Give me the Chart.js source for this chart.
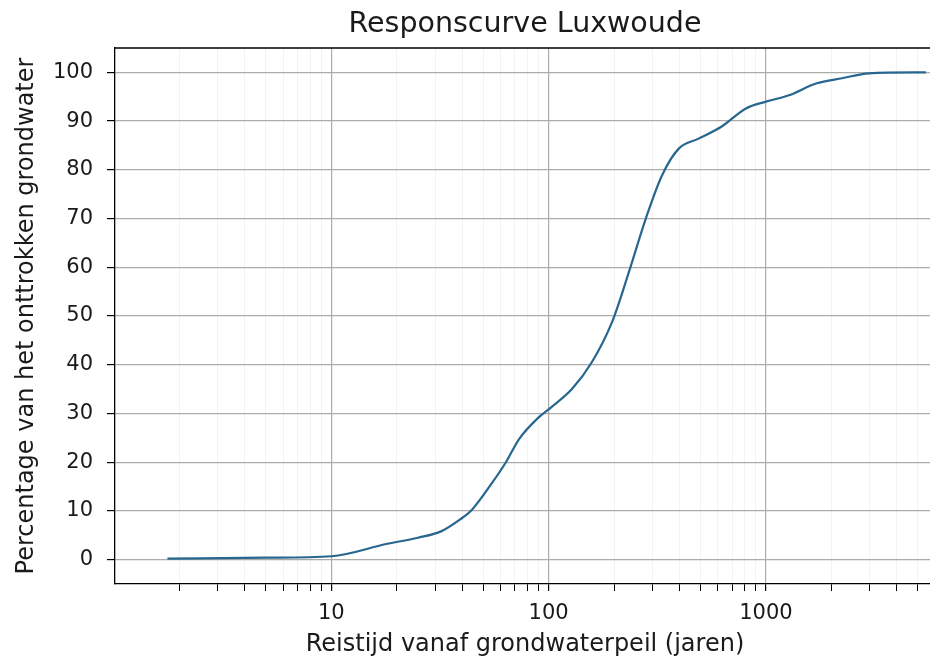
<!DOCTYPE html>
<html lang="nl">
<head>
<meta charset="utf-8">
<title>Responscurve Luxwoude</title>
<script src="https://cdn.jsdelivr.net/npm/chart.js@4"></script>
<style>
    html, body { margin: 0; padding: 0; background: #fff; }
    #wrap { width: 930px; height: 661px; overflow: hidden; }
    canvas { display: block; }
</style>
</head>
<body>
<div id="wrap">
    <canvas id="responsChart" width="940" height="661"></canvas>
</div>
<script>
// Reistijd (jaren) en cumulatief percentage onttrokken grondwater
const reistijd = [1.76, 5, 10, 17.9, 25, 32, 39, 44.5, 55, 64, 73, 90, 103, 128, 158, 196, 234, 280, 332, 398, 490, 626, 809, 1000, 1277, 1700, 2240, 2980, 5450];
const percentage = [0.2, 0.4, 0.7, 3.2, 4.5, 5.8, 8.2, 10.3, 15.8, 20.2, 24.7, 29.2, 31.3, 35, 40.5, 48.8, 59, 70, 78.8, 84.4, 86.4, 88.9, 92.6, 94, 95.3, 97.7, 98.8, 99.8, 100];

// As-instellingen
const xMin = 1.01;
const xMax = 6000;
const xLabels = [10, 100, 1000];
const yMin = -5;
const yMax = 105;
const yTicks = [0, 10, 20, 30, 40, 50, 60, 70, 80, 90, 100];

// kleine streepjes op 2..9 per decade
const xTicks = [];
for (let dec = 1; dec <= 1000; dec *= 10) {
    for (let m = 1; m <= 9; m++) {
        const v = m * dec;
        if (v > xMin && v < xMax) xTicks.push(v);
    }
}

const textColor = '#1a1a1a';
const fontFamily = "'DejaVu Sans', sans-serif";

// bovenste en rechter rand van het assenkader
const frame = {
    id: 'frame',
    afterDraw(chart) {
        const { ctx, chartArea } = chart;
        ctx.save();
        ctx.strokeStyle = '#000';
        ctx.lineWidth = 1.3;
        ctx.beginPath();
        ctx.moveTo(chartArea.left, chartArea.top);
        ctx.lineTo(chartArea.right, chartArea.top);
        ctx.lineTo(chartArea.right, chartArea.bottom);
        ctx.stroke();
        ctx.restore();
    }
};

const ctx = document.getElementById('responsChart').getContext('2d');
new Chart(ctx, {
    type: 'line',
    data: {
        datasets: [{
            data: reistijd.map((x, i) => ({ x: x, y: percentage[i] })),
            borderColor: '#27668f',
            borderWidth: 2.2,
            pointRadius: 0,
            fill: false,
            cubicInterpolationMode: 'monotone'
        }]
    },
    options: {
        responsive: false,
        animation: false,
        layout: { padding: { left: 0, right: 5, top: 0, bottom: 0 } },
        plugins: {
            legend: { display: false },
            tooltip: { enabled: false },
            title: {
                display: true,
                text: 'Responscurve Luxwoude',
                fullSize: false,
                color: textColor,
                font: { family: fontFamily, size: 28.5, weight: 'normal', lineHeight: 1.2 },
                padding: { top: 7.5, bottom: 6.3 }
            }
        },
        scales: {
            x: {
                type: 'logarithmic',
                min: xMin,
                max: xMax,
                afterBuildTicks: scale => {
                    scale.ticks = xTicks.map(v => ({ value: v, major: xLabels.includes(v) }));
                },
                afterFit: scale => { scale.height = 77; },
                border: { color: '#000', width: 1.3 },
                grid: {
                    color: c => xLabels.includes(c.tick.value) ? '#ababab' : '#f3f3f3',
                    lineWidth: c => xLabels.includes(c.tick.value) ? 1.2 : 1,
                    tickColor: '#000',
                    tickLength: 7
                },
                ticks: {
                    autoSkip: false,
                    maxRotation: 0,
                    padding: 10,
                    color: textColor,
                    font: { family: fontFamily, size: 21 },
                    callback: value => xLabels.includes(value) ? String(value) : ''
                },
                title: {
                    display: true,
                    text: 'Reistijd vanaf grondwaterpeil (jaren)',
                    color: textColor,
                    font: { family: fontFamily, size: 24, lineHeight: 1.2 },
                    padding: { top: 0, bottom: 2 }
                }
            },
            y: {
                min: yMin,
                max: yMax,
                afterBuildTicks: scale => {
                    scale.ticks = yTicks.map(v => ({ value: v }));
                },
                afterFit: scale => { scale.width = 115; },
                border: { color: '#000', width: 1.3 },
                grid: {
                    color: '#ababab',
                    lineWidth: 1.2,
                    tickColor: '#000',
                    tickLength: 8
                },
                ticks: {
                    padding: 14,
                    color: textColor,
                    font: { family: fontFamily, size: 21 }
                },
                title: {
                    display: true,
                    text: 'Percentage van het onttrokken grondwater',
                    color: textColor,
                    font: { family: fontFamily, size: 24, lineHeight: 1.2 },
                    padding: { top: 12, bottom: 0 }
                }
            }
        }
    },
    plugins: [frame]
});
</script>
</body>
</html>
